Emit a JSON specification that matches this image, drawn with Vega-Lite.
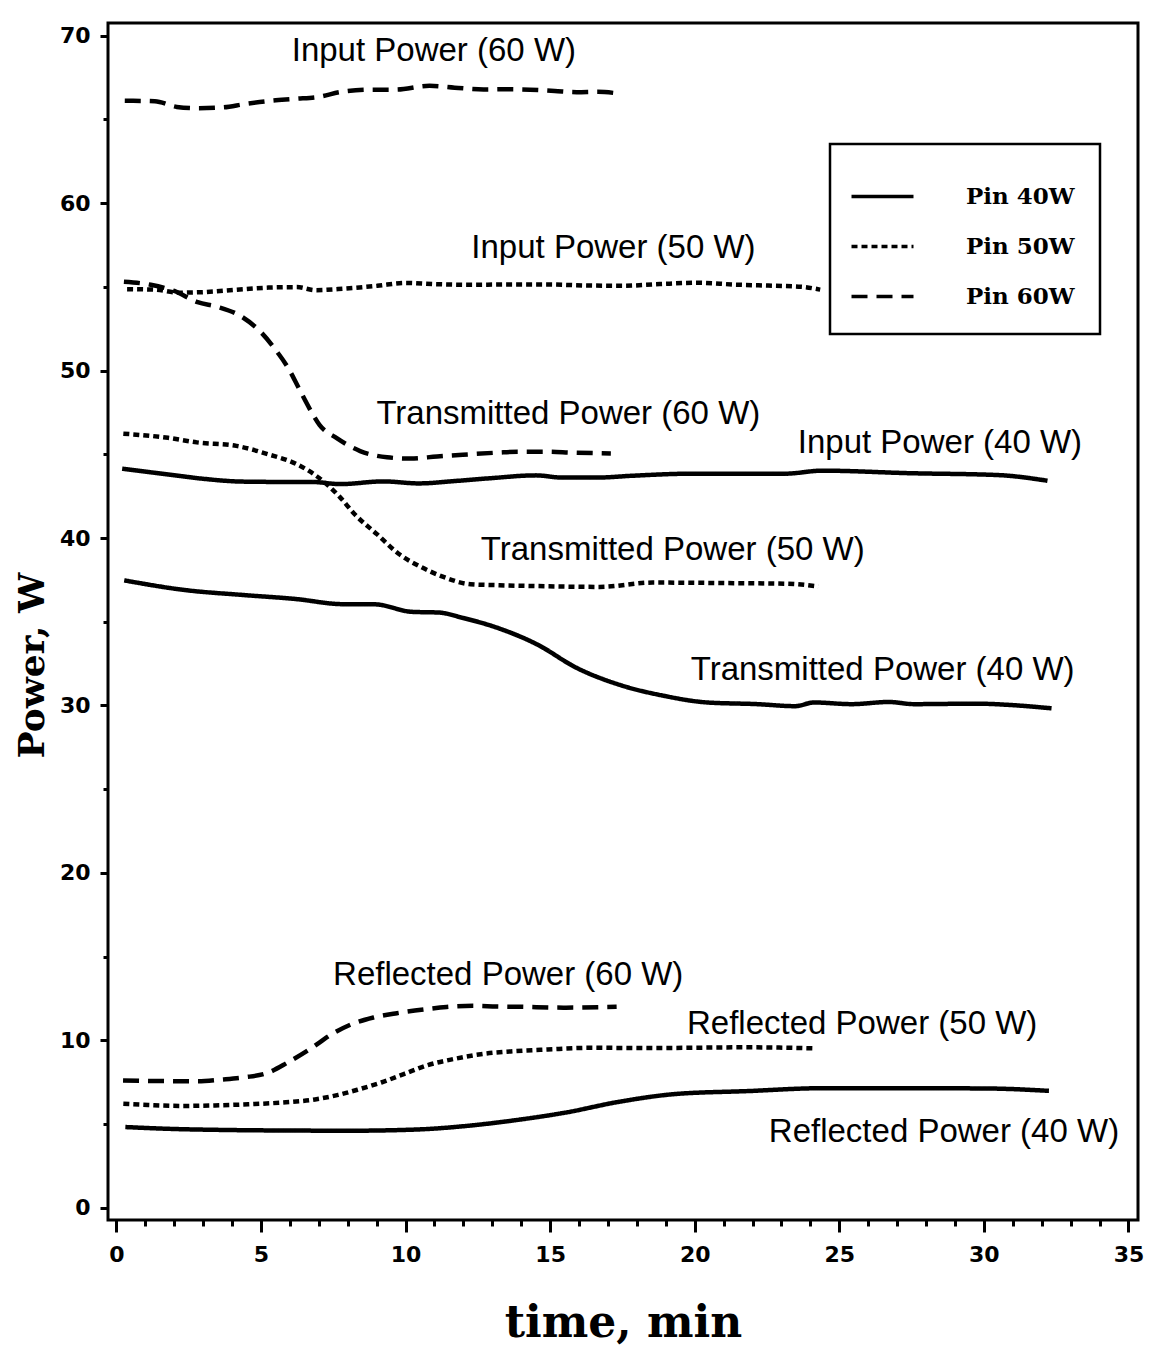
{
  "$schema": "https://vega.github.io/schema/vega-lite/v6.json",
  "width": 1030,
  "height": 1197,
  "autosize": {"type": "none"},
  "padding": {"left": 108, "top": 23, "right": 11, "bottom": 126},
  "background": "white",
  "config": {
    "view": {"stroke": "black", "strokeWidth": 3},
    "legend": {"strokeWidth": 2.5},
    "axis": {"grid": false, "domain": false, "tickColor": "black", "tickWidth": 3, "labelColor": "black", "titleColor": "black", "labelFont": "DejaVu Sans", "labelFontWeight": "bold", "labelFontSize": 22, "labelFlush": false, "labelOverlap": false, "titleFont": "DejaVu Serif", "titleFontWeight": "bold"}
  },
  "datasets": {
    "curves": [
      {"pin": "Pin 60W", "s": "in", "t": 0.29, "p": 66.11},
      {"pin": "Pin 60W", "s": "in", "t": 1.33, "p": 66.08},
      {"pin": "Pin 60W", "s": "in", "t": 2.09, "p": 65.74},
      {"pin": "Pin 60W", "s": "in", "t": 2.82, "p": 65.66},
      {"pin": "Pin 60W", "s": "in", "t": 3.68, "p": 65.71},
      {"pin": "Pin 60W", "s": "in", "t": 4.44, "p": 65.91},
      {"pin": "Pin 60W", "s": "in", "t": 5.31, "p": 66.1},
      {"pin": "Pin 60W", "s": "in", "t": 6.17, "p": 66.22},
      {"pin": "Pin 60W", "s": "in", "t": 7.04, "p": 66.35},
      {"pin": "Pin 60W", "s": "in", "t": 7.76, "p": 66.63},
      {"pin": "Pin 60W", "s": "in", "t": 8.87, "p": 66.77},
      {"pin": "Pin 60W", "s": "in", "t": 9.63, "p": 66.77},
      {"pin": "Pin 60W", "s": "in", "t": 10.83, "p": 67.0},
      {"pin": "Pin 60W", "s": "in", "t": 11.7, "p": 66.89},
      {"pin": "Pin 60W", "s": "in", "t": 12.7, "p": 66.78},
      {"pin": "Pin 60W", "s": "in", "t": 13.57, "p": 66.8},
      {"pin": "Pin 60W", "s": "in", "t": 14.3, "p": 66.77},
      {"pin": "Pin 60W", "s": "in", "t": 15.16, "p": 66.69},
      {"pin": "Pin 60W", "s": "in", "t": 15.92, "p": 66.62},
      {"pin": "Pin 60W", "s": "in", "t": 16.65, "p": 66.64},
      {"pin": "Pin 60W", "s": "in", "t": 17.27, "p": 66.56},

      {"pin": "Pin 60W", "s": "tr", "t": 0.26, "p": 55.3},
      {"pin": "Pin 60W", "s": "tr", "t": 1.19, "p": 55.12},
      {"pin": "Pin 60W", "s": "tr", "t": 2.0, "p": 54.75},
      {"pin": "Pin 60W", "s": "tr", "t": 2.81, "p": 54.08},
      {"pin": "Pin 60W", "s": "tr", "t": 3.5, "p": 53.8},
      {"pin": "Pin 60W", "s": "tr", "t": 4.32, "p": 53.23},
      {"pin": "Pin 60W", "s": "tr", "t": 5.02, "p": 52.25},
      {"pin": "Pin 60W", "s": "tr", "t": 5.49, "p": 51.27},
      {"pin": "Pin 60W", "s": "tr", "t": 5.96, "p": 50.09},
      {"pin": "Pin 60W", "s": "tr", "t": 6.32, "p": 48.91},
      {"pin": "Pin 60W", "s": "tr", "t": 6.68, "p": 47.73},
      {"pin": "Pin 60W", "s": "tr", "t": 7.03, "p": 46.74},
      {"pin": "Pin 60W", "s": "tr", "t": 7.62, "p": 45.96},
      {"pin": "Pin 60W", "s": "tr", "t": 8.43, "p": 45.19},
      {"pin": "Pin 60W", "s": "tr", "t": 9.36, "p": 44.82},
      {"pin": "Pin 60W", "s": "tr", "t": 10.17, "p": 44.74},
      {"pin": "Pin 60W", "s": "tr", "t": 11.09, "p": 44.87},
      {"pin": "Pin 60W", "s": "tr", "t": 12.24, "p": 45.0},
      {"pin": "Pin 60W", "s": "tr", "t": 13.2, "p": 45.1},
      {"pin": "Pin 60W", "s": "tr", "t": 13.89, "p": 45.15},
      {"pin": "Pin 60W", "s": "tr", "t": 14.89, "p": 45.15},
      {"pin": "Pin 60W", "s": "tr", "t": 15.76, "p": 45.1},
      {"pin": "Pin 60W", "s": "tr", "t": 17.1, "p": 45.05},

      {"pin": "Pin 60W", "s": "re", "t": 0.23, "p": 7.61},
      {"pin": "Pin 60W", "s": "re", "t": 1.09, "p": 7.58},
      {"pin": "Pin 60W", "s": "re", "t": 2.01, "p": 7.57},
      {"pin": "Pin 60W", "s": "re", "t": 2.82, "p": 7.56},
      {"pin": "Pin 60W", "s": "re", "t": 3.62, "p": 7.66},
      {"pin": "Pin 60W", "s": "re", "t": 4.43, "p": 7.8},
      {"pin": "Pin 60W", "s": "re", "t": 5.24, "p": 8.07},
      {"pin": "Pin 60W", "s": "re", "t": 5.92, "p": 8.68},
      {"pin": "Pin 60W", "s": "re", "t": 6.72, "p": 9.51},
      {"pin": "Pin 60W", "s": "re", "t": 7.4, "p": 10.32},
      {"pin": "Pin 60W", "s": "re", "t": 8.09, "p": 10.94},
      {"pin": "Pin 60W", "s": "re", "t": 8.89, "p": 11.37},
      {"pin": "Pin 60W", "s": "re", "t": 9.7, "p": 11.63},
      {"pin": "Pin 60W", "s": "re", "t": 10.62, "p": 11.85},
      {"pin": "Pin 60W", "s": "re", "t": 11.42, "p": 12.0},
      {"pin": "Pin 60W", "s": "re", "t": 12.34, "p": 12.07},
      {"pin": "Pin 60W", "s": "re", "t": 13.15, "p": 12.03},
      {"pin": "Pin 60W", "s": "re", "t": 13.96, "p": 12.01},
      {"pin": "Pin 60W", "s": "re", "t": 15.46, "p": 11.96},
      {"pin": "Pin 60W", "s": "re", "t": 17.3, "p": 12.01},

      {"pin": "Pin 50W", "s": "in", "t": 0.37, "p": 54.86},
      {"pin": "Pin 50W", "s": "in", "t": 1.34, "p": 54.83},
      {"pin": "Pin 50W", "s": "in", "t": 2.17, "p": 54.65},
      {"pin": "Pin 50W", "s": "in", "t": 2.98, "p": 54.68},
      {"pin": "Pin 50W", "s": "in", "t": 4.12, "p": 54.82},
      {"pin": "Pin 50W", "s": "in", "t": 5.26, "p": 54.95},
      {"pin": "Pin 50W", "s": "in", "t": 6.24, "p": 54.98},
      {"pin": "Pin 50W", "s": "in", "t": 6.89, "p": 54.8},
      {"pin": "Pin 50W", "s": "in", "t": 7.87, "p": 54.89},
      {"pin": "Pin 50W", "s": "in", "t": 9.02, "p": 55.06},
      {"pin": "Pin 50W", "s": "in", "t": 9.99, "p": 55.23},
      {"pin": "Pin 50W", "s": "in", "t": 10.97, "p": 55.16},
      {"pin": "Pin 50W", "s": "in", "t": 12.28, "p": 55.12},
      {"pin": "Pin 50W", "s": "in", "t": 13.58, "p": 55.14},
      {"pin": "Pin 50W", "s": "in", "t": 14.88, "p": 55.14},
      {"pin": "Pin 50W", "s": "in", "t": 16.18, "p": 55.08},
      {"pin": "Pin 50W", "s": "in", "t": 17.49, "p": 55.06},
      {"pin": "Pin 50W", "s": "in", "t": 18.79, "p": 55.16},
      {"pin": "Pin 50W", "s": "in", "t": 20.1, "p": 55.24},
      {"pin": "Pin 50W", "s": "in", "t": 21.4, "p": 55.13},
      {"pin": "Pin 50W", "s": "in", "t": 22.54, "p": 55.07},
      {"pin": "Pin 50W", "s": "in", "t": 23.68, "p": 55.0},
      {"pin": "Pin 50W", "s": "in", "t": 24.34, "p": 54.83},

      {"pin": "Pin 50W", "s": "tr", "t": 0.24, "p": 46.23},
      {"pin": "Pin 50W", "s": "tr", "t": 1.79, "p": 45.98},
      {"pin": "Pin 50W", "s": "tr", "t": 2.78, "p": 45.71},
      {"pin": "Pin 50W", "s": "tr", "t": 4.15, "p": 45.5},
      {"pin": "Pin 50W", "s": "tr", "t": 5.25, "p": 45.0},
      {"pin": "Pin 50W", "s": "tr", "t": 6.25, "p": 44.4},
      {"pin": "Pin 50W", "s": "tr", "t": 7.0, "p": 43.6},
      {"pin": "Pin 50W", "s": "tr", "t": 7.7, "p": 42.5},
      {"pin": "Pin 50W", "s": "tr", "t": 8.25, "p": 41.4},
      {"pin": "Pin 50W", "s": "tr", "t": 9.01, "p": 40.23},
      {"pin": "Pin 50W", "s": "tr", "t": 9.76, "p": 39.06},
      {"pin": "Pin 50W", "s": "tr", "t": 10.51, "p": 38.29},
      {"pin": "Pin 50W", "s": "tr", "t": 11.26, "p": 37.71},
      {"pin": "Pin 50W", "s": "tr", "t": 12.25, "p": 37.24},
      {"pin": "Pin 50W", "s": "tr", "t": 13.24, "p": 37.18},
      {"pin": "Pin 50W", "s": "tr", "t": 14.85, "p": 37.12},
      {"pin": "Pin 50W", "s": "tr", "t": 16.71, "p": 37.08},
      {"pin": "Pin 50W", "s": "tr", "t": 18.55, "p": 37.34},
      {"pin": "Pin 50W", "s": "tr", "t": 21.02, "p": 37.31},
      {"pin": "Pin 50W", "s": "tr", "t": 23.19, "p": 37.27},
      {"pin": "Pin 50W", "s": "tr", "t": 24.27, "p": 37.11},

      {"pin": "Pin 50W", "s": "re", "t": 0.24, "p": 6.22},
      {"pin": "Pin 50W", "s": "re", "t": 1.1, "p": 6.15},
      {"pin": "Pin 50W", "s": "re", "t": 2.26, "p": 6.09},
      {"pin": "Pin 50W", "s": "re", "t": 3.41, "p": 6.12},
      {"pin": "Pin 50W", "s": "re", "t": 4.56, "p": 6.19},
      {"pin": "Pin 50W", "s": "re", "t": 5.71, "p": 6.29},
      {"pin": "Pin 50W", "s": "re", "t": 6.87, "p": 6.48},
      {"pin": "Pin 50W", "s": "re", "t": 7.67, "p": 6.75},
      {"pin": "Pin 50W", "s": "re", "t": 8.36, "p": 7.07},
      {"pin": "Pin 50W", "s": "re", "t": 9.16, "p": 7.49},
      {"pin": "Pin 50W", "s": "re", "t": 9.96, "p": 8.01},
      {"pin": "Pin 50W", "s": "re", "t": 10.77, "p": 8.53},
      {"pin": "Pin 50W", "s": "re", "t": 11.69, "p": 8.9},
      {"pin": "Pin 50W", "s": "re", "t": 12.6, "p": 9.18},
      {"pin": "Pin 50W", "s": "re", "t": 13.76, "p": 9.36},
      {"pin": "Pin 50W", "s": "re", "t": 14.91, "p": 9.46},
      {"pin": "Pin 50W", "s": "re", "t": 16.4, "p": 9.56},
      {"pin": "Pin 50W", "s": "re", "t": 18.71, "p": 9.55},
      {"pin": "Pin 50W", "s": "re", "t": 21.82, "p": 9.59},
      {"pin": "Pin 50W", "s": "re", "t": 24.14, "p": 9.53},

      {"pin": "Pin 40W", "s": "in", "t": 0.2, "p": 44.14},
      {"pin": "Pin 40W", "s": "in", "t": 1.81, "p": 43.79},
      {"pin": "Pin 40W", "s": "in", "t": 3.04, "p": 43.53},
      {"pin": "Pin 40W", "s": "in", "t": 4.32, "p": 43.37},
      {"pin": "Pin 40W", "s": "in", "t": 5.52, "p": 43.35},
      {"pin": "Pin 40W", "s": "in", "t": 6.75, "p": 43.35},
      {"pin": "Pin 40W", "s": "in", "t": 7.75, "p": 43.22},
      {"pin": "Pin 40W", "s": "in", "t": 9.23, "p": 43.38},
      {"pin": "Pin 40W", "s": "in", "t": 10.46, "p": 43.26},
      {"pin": "Pin 40W", "s": "in", "t": 11.69, "p": 43.4},
      {"pin": "Pin 40W", "s": "in", "t": 12.93, "p": 43.57},
      {"pin": "Pin 40W", "s": "in", "t": 14.52, "p": 43.74},
      {"pin": "Pin 40W", "s": "in", "t": 15.39, "p": 43.61},
      {"pin": "Pin 40W", "s": "in", "t": 16.64, "p": 43.61},
      {"pin": "Pin 40W", "s": "in", "t": 17.87, "p": 43.72},
      {"pin": "Pin 40W", "s": "in", "t": 19.88, "p": 43.84},
      {"pin": "Pin 40W", "s": "in", "t": 23.12, "p": 43.84},
      {"pin": "Pin 40W", "s": "in", "t": 24.41, "p": 44.02},
      {"pin": "Pin 40W", "s": "in", "t": 27.44, "p": 43.87},
      {"pin": "Pin 40W", "s": "in", "t": 30.47, "p": 43.76},
      {"pin": "Pin 40W", "s": "in", "t": 32.2, "p": 43.42},

      {"pin": "Pin 40W", "s": "tr", "t": 0.27, "p": 37.47},
      {"pin": "Pin 40W", "s": "tr", "t": 2.44, "p": 36.88},
      {"pin": "Pin 40W", "s": "tr", "t": 4.36, "p": 36.6},
      {"pin": "Pin 40W", "s": "tr", "t": 6.19, "p": 36.36},
      {"pin": "Pin 40W", "s": "tr", "t": 7.82, "p": 36.05},
      {"pin": "Pin 40W", "s": "tr", "t": 8.93, "p": 36.04},
      {"pin": "Pin 40W", "s": "tr", "t": 10.23, "p": 35.59},
      {"pin": "Pin 40W", "s": "tr", "t": 11.15, "p": 35.55},
      {"pin": "Pin 40W", "s": "tr", "t": 11.96, "p": 35.24},
      {"pin": "Pin 40W", "s": "tr", "t": 13.27, "p": 34.58},
      {"pin": "Pin 40W", "s": "tr", "t": 14.57, "p": 33.63},
      {"pin": "Pin 40W", "s": "tr", "t": 15.89, "p": 32.27},
      {"pin": "Pin 40W", "s": "tr", "t": 17.41, "p": 31.23},
      {"pin": "Pin 40W", "s": "tr", "t": 18.93, "p": 30.58},
      {"pin": "Pin 40W", "s": "tr", "t": 20.44, "p": 30.18},
      {"pin": "Pin 40W", "s": "tr", "t": 22.17, "p": 30.08},
      {"pin": "Pin 40W", "s": "tr", "t": 23.48, "p": 29.96},
      {"pin": "Pin 40W", "s": "tr", "t": 24.12, "p": 30.18},
      {"pin": "Pin 40W", "s": "tr", "t": 25.42, "p": 30.08},
      {"pin": "Pin 40W", "s": "tr", "t": 26.72, "p": 30.21},
      {"pin": "Pin 40W", "s": "tr", "t": 27.58, "p": 30.08},
      {"pin": "Pin 40W", "s": "tr", "t": 29.74, "p": 30.11},
      {"pin": "Pin 40W", "s": "tr", "t": 30.82, "p": 30.04},
      {"pin": "Pin 40W", "s": "tr", "t": 32.34, "p": 29.83},

      {"pin": "Pin 40W", "s": "re", "t": 0.31, "p": 4.83},
      {"pin": "Pin 40W", "s": "re", "t": 1.7, "p": 4.73},
      {"pin": "Pin 40W", "s": "re", "t": 4.0, "p": 4.65},
      {"pin": "Pin 40W", "s": "re", "t": 6.31, "p": 4.62},
      {"pin": "Pin 40W", "s": "re", "t": 8.04, "p": 4.61},
      {"pin": "Pin 40W", "s": "re", "t": 10.34, "p": 4.68},
      {"pin": "Pin 40W", "s": "re", "t": 12.07, "p": 4.89},
      {"pin": "Pin 40W", "s": "re", "t": 13.8, "p": 5.24},
      {"pin": "Pin 40W", "s": "re", "t": 15.52, "p": 5.69},
      {"pin": "Pin 40W", "s": "re", "t": 17.39, "p": 6.34},
      {"pin": "Pin 40W", "s": "re", "t": 19.32, "p": 6.8},
      {"pin": "Pin 40W", "s": "re", "t": 21.87, "p": 6.98},
      {"pin": "Pin 40W", "s": "re", "t": 24.43, "p": 7.15},
      {"pin": "Pin 40W", "s": "re", "t": 27.64, "p": 7.15},
      {"pin": "Pin 40W", "s": "re", "t": 30.2, "p": 7.13},
      {"pin": "Pin 40W", "s": "re", "t": 32.25, "p": 6.99}
    ],
    "labels": [
      {"label": "Input Power (60 W)", "t": 10.98, "p": 69.07},
      {"label": "Input Power (50 W)", "t": 17.19, "p": 57.32},
      {"label": "Transmitted Power (60 W)", "t": 15.63, "p": 47.42},
      {"label": "Input Power (40 W)", "t": 28.48, "p": 45.66},
      {"label": "Transmitted Power (50 W)", "t": 19.24, "p": 39.28},
      {"label": "Transmitted Power (40 W)", "t": 26.5, "p": 32.1},
      {"label": "Reflected Power (60 W)", "t": 13.55, "p": 13.91},
      {"label": "Reflected Power (50 W)", "t": 25.79, "p": 11.0},
      {"label": "Reflected Power (40 W)", "t": 28.62, "p": 4.51}
    ]
  },
  "layer": [
    {
      "data": {"name": "curves"},
      "mark": {"type": "line", "color": "black", "strokeWidth": 4.5, "interpolate": "monotone", "strokeCap": "butt"},
      "encoding": {
        "x": {
          "field": "t", "type": "quantitative",
          "scale": {"domain": [-0.29, 35.33], "nice": false, "zero": false},
          "axis": {
            "values": [0,0.5,1,1.5,2,2.5,3,3.5,4,4.5,5,5.5,6,6.5,7,7.5,8,8.5,9,9.5,10,10.5,11,11.5,12,12.5,13,13.5,14,14.5,15,15.5,16,16.5,17,17.5,18,18.5,19,19.5,20,20.5,21,21.5,22,22.5,23,23.5,24,24.5,25,25.5,26,26.5,27,27.5,28,28.5,29,29.5,30,30.5,31,31.5,32,32.5,33,33.5,34,34.5,35],
            "tickCount": 200,
            "format": "d",
            "labelExpr": "datum.value % 5 === 0 ? datum.label : ''",
            "tickSize": {"condition": {"test": "datum.value % 5 === 0", "value": 12}, "value": 6},
            "labelPadding": 12,
            "title": "time, min",
            "titleFontSize": 44,
            "titlePadding": 36
          }
        },
        "y": {
          "field": "p", "type": "quantitative",
          "scale": {"domain": [-0.72, 70.75], "nice": false, "zero": false},
          "axis": {
            "values": [0,5,10,15,20,25,30,35,40,45,50,55,60,65,70],
            "tickCount": 200,
            "format": "d",
            "labelExpr": "datum.value % 10 === 0 ? datum.label : ''",
            "tickSize": {"condition": {"test": "datum.value % 10 === 0", "value": 8}, "value": 5},
            "labelPadding": 10,
            "title": "Power, W",
            "titleFontSize": 36,
            "titlePadding": 8,
            "titleY": 642
          }
        },
        "strokeDash": {
          "field": "pin", "type": "nominal",
          "scale": {"domain": ["Pin 40W", "Pin 50W", "Pin 60W"], "range": [[1, 0], [6, 4], [16, 9]]},
          "legend": {
            "orient": "none", "legendX": 722, "legendY": 121,
            "title": " ", "titleFontSize": 6, "titlePadding": 4,
            "padding": 25, "strokeColor": "black", "fillColor": "white",
            "symbolType": "M-2,0H2", "symbolSize": 961, "symbolStrokeColor": "black", "symbolStrokeWidth": 3.5, "symbolFillColor": "transparent",
            "symbolOffset": 10, "labelOffset": 66,
            "labelFont": "DejaVu Serif", "labelFontWeight": "bold", "labelFontSize": 23, "labelColor": "black", "labelLimit": 300,
            "rowPadding": 20
          }
        },
        "detail": {"field": "s"}
      }
    },
    {
      "data": {"name": "labels"},
      "mark": {"type": "text", "font": "Liberation Sans", "fontSize": 33, "align": "center", "baseline": "middle", "color": "black"},
      "encoding": {
        "x": {"field": "t", "type": "quantitative", "scale": {"domain": [-0.29, 35.33], "nice": false, "zero": false}},
        "y": {"field": "p", "type": "quantitative", "scale": {"domain": [-0.72, 70.75], "nice": false, "zero": false}},
        "text": {"field": "label"}
      }
    }
  ]
}
